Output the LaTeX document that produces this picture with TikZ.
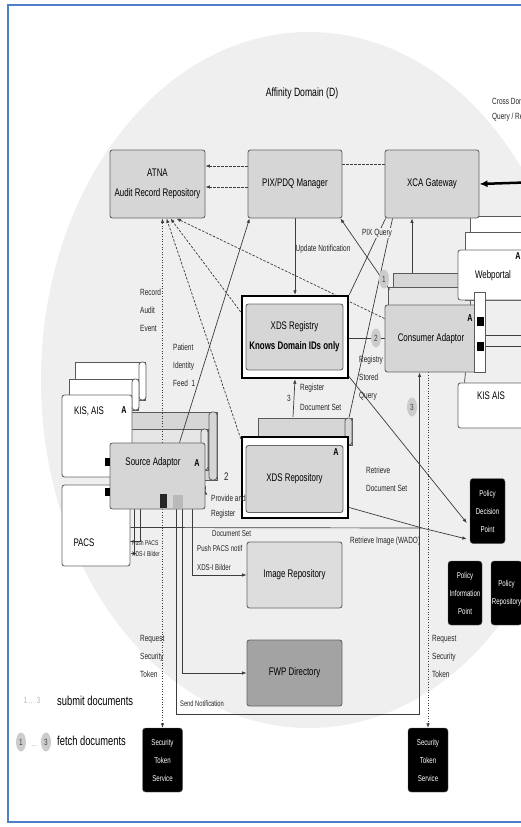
\documentclass[tikz,border=0pt]{standalone}
\usepackage{fontspec}
\setmainfont{Liberation Sans}[FakeStretch=0.72]
\usetikzlibrary{arrows.meta,shapes.geometric,calc}
\pgfdeclarelayer{bgA}
\pgfdeclarelayer{bgB}
\pgfsetlayers{bgA,bgB,main}
\definecolor{frameblue}{HTML}{4F7FC6}
\definecolor{domaingray}{HTML}{EFEFEF}
\definecolor{boxgray}{HTML}{D6D6D6}
\definecolor{imggray}{HTML}{DDDDDD}
\definecolor{fwpgray}{HTML}{A3A3A3}
\definecolor{linegray}{HTML}{3C3C3C}
\tikzset{
  box/.style={draw=black!60, line width=0.9pt, rounded corners=2.5pt, fill=boxgray, align=center, inner sep=0pt, font=\fontsize{11}{20}\selectfont},
  wbox/.style={box, fill=white},
  frm/.style={draw=black, line width=2.4pt, fill=white, inner sep=0pt},
  layerbox/.style={draw=black!65, line width=0.8pt, fill=white},
  pol/.style={fill=black, draw=black!60, rounded corners=3pt, text=white, align=center, inner sep=0pt, font=\fontsize{8.5}{18}\selectfont},
  lbl/.style={font=\fontsize{9}{18}\selectfont, align=left, inner sep=0pt, anchor=west, text=black!85},
  txt/.style={font=\fontsize{11}{13}\selectfont, inner sep=0pt},
  amark/.style={font=\fontsize{10}{10}\selectfont\bfseries, inner sep=0pt},
  num/.style={ellipse, fill=gray!40, text=gray!50!black, minimum width=10pt, minimum height=19pt, inner sep=0pt, font=\fontsize{9}{9}\selectfont},
  conn/.style={draw=linegray, line width=0.7pt},
  dconn/.style={conn, dash pattern=on 2.5pt off 1.5pt},
  dotconn/.style={conn, dash pattern=on 1pt off 1.6pt},
  arr/.style={-{Latex[length=4.5pt,width=3.5pt]}},
}
\begin{document}
\begin{tikzpicture}[x=1pt,y=-1pt]
\useasboundingbox (0,0) rectangle (521,827);
\clip (0,0) rectangle (521,827);

% ---------------- nodes ----------------
\node[box, minimum width=95pt, minimum height=68pt] (atna) at (157.5,184) {ATNA\\Audit Record Repository};
\node[box, minimum width=94pt, minimum height=68pt] (pix) at (295,184) {PIX/PDQ Manager};
\node[box, minimum width=94pt, minimum height=68pt] (xca) at (432,184) {XCA Gateway};

\node[frm, minimum width=106pt, minimum height=82pt] (regframe) at (295,337) {};
\node[box, minimum width=97pt, minimum height=66pt] (reg) at (294.5,337) {XDS Registry\\\textbf{Knows Domain IDs only}};

\node[box, minimum width=92pt, minimum height=67pt] (cons) at (431,338.5) {Consumer Adaptor};

\node[wbox, minimum width=102pt, minimum height=50pt] (web) at (509,275) {};
\node[txt] (webtxt) at (493,276) {Webportal};
\node[wbox, minimum width=102pt, minimum height=45pt] (kisr) at (509,405.5) {};
\node[txt] (kisrtxt) at (491,396) {KIS AIS};

\node[wbox, minimum width=70pt, minimum height=82pt] (kisl) at (97,436) {};
\node[txt] (kisltxt) at (89,411) {KIS, AIS};
\node[wbox, minimum width=68pt, minimum height=81pt] (pacs) at (96,525.5) {};
\node[txt] (pacstxt) at (84,543) {PACS};

\node[box, minimum width=95pt, minimum height=66pt] (srca) at (157.5,476) {};
\node[txt] (srcatxt) at (153,463) {Source Adaptor};
\fill[black!85] (160,494) rectangle (167,508);
\fill[gray!55] (173,495) rectangle (183,508);
\fill[black] (105,458) rectangle (110,466);
\fill[black] (105,488) rectangle (110,496);

\node[frm, minimum width=106pt, minimum height=81pt] (repoframe) at (295,477.5) {};
\node[box, minimum width=97pt, minimum height=67pt] (repo) at (294.5,479) {XDS Repository};

\node[box, fill=imggray, minimum width=95pt, minimum height=66pt] (img) at (294.5,575) {Image Repository};
\node[box, fill=fwpgray, minimum width=95pt, minimum height=66pt] (fwp) at (294.5,673) {FWP Directory};

\node[pol, minimum width=35pt, minimum height=65pt] (pdp) at (487.5,511) {Policy\\Decision\\Point};
\node[pol, minimum width=34pt, minimum height=64pt] (pip) at (465,593) {Policy\\Information\\Point};
\node[pol, minimum width=31pt, minimum height=64pt] (prep) at (506.5,593) {Policy\\Repository};
\node[pol, minimum width=40pt, minimum height=64pt] (sts1) at (162.5,760) {Security\\Token\\Service};
\node[pol, minimum width=40pt, minimum height=64pt] (sts2) at (428,760) {Security\\Token\\Service};

% consumer tab
\draw[layerbox] (474,292) rectangle (485,372);
\fill[black] (477,317) rectangle (484,326);
\fill[black] (477,342) rectangle (484,351);

% A marks
\node[amark] at (124,410) {A};
\node[amark] at (197,463) {A};
\node[amark] at (336,452) {A};
\node[amark] at (470,318) {A};
\node[amark] at (518,256) {A};

% numbers
\node[num] (n1) at (384,279) {1};
\node[num] (n2) at (376,338) {2};
\node[num] (n3) at (412,407) {3};

% titles / labels
\node[font=\fontsize{12}{14}\selectfont, inner sep=0pt] (title) at (302,93) {Affinity Domain (D)};
\node[lbl, font=\fontsize{9}{15}\selectfont] (cross) at (492,110) {Cross Domain\\Query / Retrieve};
\node[lbl, anchor=center, align=center] (updl) at (323,249) {Update Notification};
\node[lbl, anchor=center, fill=domaingray, inner sep=0.5pt] (pixq) at (377,233) {PIX Query};
\node[lbl] (rae) at (140,310) {Record\\Audit\\Event};
\node[lbl] (pif) at (173,365) {Patient\\Identity\\Feed \ 1};
\node[lbl] (rsq) at (359,378) {Registry\\Stored\\Query};
\node[lbl, font=\fontsize{9}{20}\selectfont] (rds) at (300,397) {Register\\Document Set};
\node[lbl] (three) at (287,398) {3};
\node[lbl, font=\fontsize{11}{11}\selectfont] (two) at (224,477) {2};
\node[lbl] (rdoc) at (366,479) {Retrieve\\Document Set};
\node[lbl, font=\fontsize{9}{15}\selectfont] (par) at (211,507) {Provide and\\Register};
\node[lbl, font=\fontsize{8.5}{8.5}\selectfont] (dset) at (212,534) {Document Set};
\node[lbl, font=\fontsize{8.5}{8.5}\selectfont] (ppn) at (197,548) {Push PACS notif};
\node[lbl, font=\fontsize{8.5}{8.5}\selectfont] (xdsi) at (197,567) {XDS-I Bilder};
\node[lbl, font=\fontsize{7}{11}\selectfont] (pushp) at (132,548) {Push PACS\\XDS-I Bilder};
\node[lbl] (wadol) at (350,541) {Retrieve Image (WADO)};
\node[lbl] (rst1) at (140,656) {Request\\Security\\Token};
\node[lbl] (rst2) at (432,656) {Request\\Security\\Token};
\node[lbl, font=\fontsize{8}{8}\selectfont] (sendl) at (180,704) {Send Notification};

% legend
\node[font=\fontsize{9}{9}\selectfont, text=gray!55, inner sep=0pt] (leg1) at (32,700) {1 ... 3};
\node[anchor=west, font=\fontsize{13}{14}\selectfont, inner sep=0pt] (legs) at (57,701) {submit documents};
\node[num] (lc1) at (21,742) {1};
\node[font=\fontsize{9}{9}\selectfont, text=gray!60, inner sep=0pt] (ldots) at (34,746) {...};
\node[num] (lc3) at (46,742) {3};
\node[anchor=west, font=\fontsize{13}{14}\selectfont, inner sep=0pt] (legf) at (57,741) {fetch documents};

% frame
\draw[frameblue, line width=2pt] (8,5) rectangle (560,822);

% ---------------- background ----------------
\begin{pgfonlayer}{bgA}
\clip (0,0) rectangle (521,827);
\fill[domaingray] (309,380) ellipse [x radius=268, y radius=348];
% KIS stack
\draw[layerbox] (75,362) rectangle (145,400);
\draw[layerbox, rounded corners=3pt] (139,362) rectangle (146,400);
\draw[layerbox] (69,379) rectangle (138,410);
\draw[layerbox, rounded corners=3pt] (132,379) rectangle (139,410);
% source adaptor stack
\draw[layerbox, fill=boxgray] (130,412) rectangle (217,480);
\draw[layerbox, fill=boxgray, rounded corners=3pt] (209,412) rectangle (217,480);
\draw[layerbox, fill=boxgray!60] (108,429) rectangle (208,470);
\draw[layerbox, fill=boxgray!60, rounded corners=3pt] (201,429) rectangle (208,470);
% repository stack
\draw[layerbox, fill=boxgray] (258,418) rectangle (352,445);
\draw[layerbox, fill=boxgray, rounded corners=3pt] (345,418) rectangle (352,445);
% consumer stack
\draw[layerbox, fill=boxgray] (393,273) rectangle (458,300);
\draw[layerbox, fill=boxgray!60] (388,287) rectangle (470,320);
% webportal stack
\draw[layerbox] (470,216) rectangle (560,300);
\draw[layerbox] (465,232) rectangle (560,300);
\end{pgfonlayer}

% ---------------- connectors ----------------
\begin{pgfonlayer}{bgB}
\clip (0,0) rectangle (521,827);
% PIX <-> ATNA, PIX - XCA
\draw[dconn, arr] ($(pix.west)+(0,-18)$) -- ($(atna.east)+(0,-18)$);
\draw[dconn, arr] ($(pix.west)+(0,3)$) -- ($(atna.east)+(0,3)$);
\draw[dconn] ($(pix.east)+(0,-20)$) -- ($(xca.west)+(0,-20)$);
% cross domain query
\coordinate (xin) at (540,182);
\draw[line width=2.5pt, -{Latex[length=8pt,width=7pt]}] (xin) -- (xca.east);
% audit events
\draw[dotconn, arr] ($(srca.north)+(5,0)$) -- ($(atna.south)+(5,0)$);
\draw[dconn, arr] ($(regframe.west)+(0,-25)$) -- ($(atna.south)+(13,0)$);
\draw[dconn, arr] ($(repoframe.north west)+(0,3)$) -- ($(atna.south)+(9,0)$);
\draw[dconn, arr] ($(cons.north west)+(0,14)$) -- ($(atna.south)+(19,0)$);
% patient identity feed
\draw[conn, arr] ($(srca.north)+(22,0)$) -- ($(pix.south west)+(2,0)$);
% PIX query
\draw[conn, arr] ($(cons.north west)+(5,-15)$) -- ($(pix.south east)+(-2,0)$);
% update notification
\draw[conn, arr] (pix.south) -- (regframe.north);
% XCA to registry / repository
\draw[conn] ($(xca.south west)+(1,0)$) -- (regframe.north east);
\draw[conn] ($(xca.south west)+(8,0)$) -- ($(repoframe.north east)+(0,-19)$);
% consumer to XCA
\draw[conn, arr] ($(cons.north)+(-19,-32)$) -- ($(xca.south)+(-20,0)$);
% registry stored query
\draw[conn, arr] (cons.west) -- (cons.west -| reg.east);
% register document set
\draw[conn, arr] ($(repoframe.north)+(-2,-19)$) -- (regframe.south);
% registry / repository to PDP
\draw[conn, arr] ($(reg.south east)+(3,3)$) -- ($(pdp.west)+(-3,12)$);
\coordinate (wado) at (422,528);
\draw[conn, arr] ($(pacs.east)+(0,2)$) -- (wado) -- ($(pdp.west)+(-3,28)$);
\draw[conn] ($(repoframe.east)+(0,30)$) -- (wado);
% provide and register
\draw[conn, arr] ($(srca.east)+(0,14)$) -- ($(srca.east)+(0,14)$ -| repoframe.west);
% PACS links
\draw[conn, arr] ($(srca.south west)+(25,0)$) |- ($(pacs.east)+(0,28)$);
\draw[conn] ($(srca.south west)+(31,0)$) |- ($(pacs.east)+(0,16)$);
% image repository, FWP, send notification
\draw[conn, arr] ($(srca.south west)+(83,0)$) |- (img.west);
\draw[conn, arr] ($(srca.south west)+(73,0)$) |- (fwp.west);
\draw[conn, arr] ($(srca.south west)+(67,0)$) -- ++(0,205) -| ($(cons.south west)+(35,0)$);
% security tokens
\draw[dotconn, arr] ($(srca.south)+(5,0)$) -- (sts1.north);
\draw[dotconn, arr] ($(cons.south)+(-3,0)$) -- (sts2.north);
% consumer to right systems
\draw[conn] (485,335) -- (540,335);
\draw[conn] (485,346) -- (540,346);
\draw[conn] ($(cons.south east)+(-12,0)$) -- ($(kisr.north west)+(7,0)$);
\end{pgfonlayer}
\end{tikzpicture}
\end{document}
